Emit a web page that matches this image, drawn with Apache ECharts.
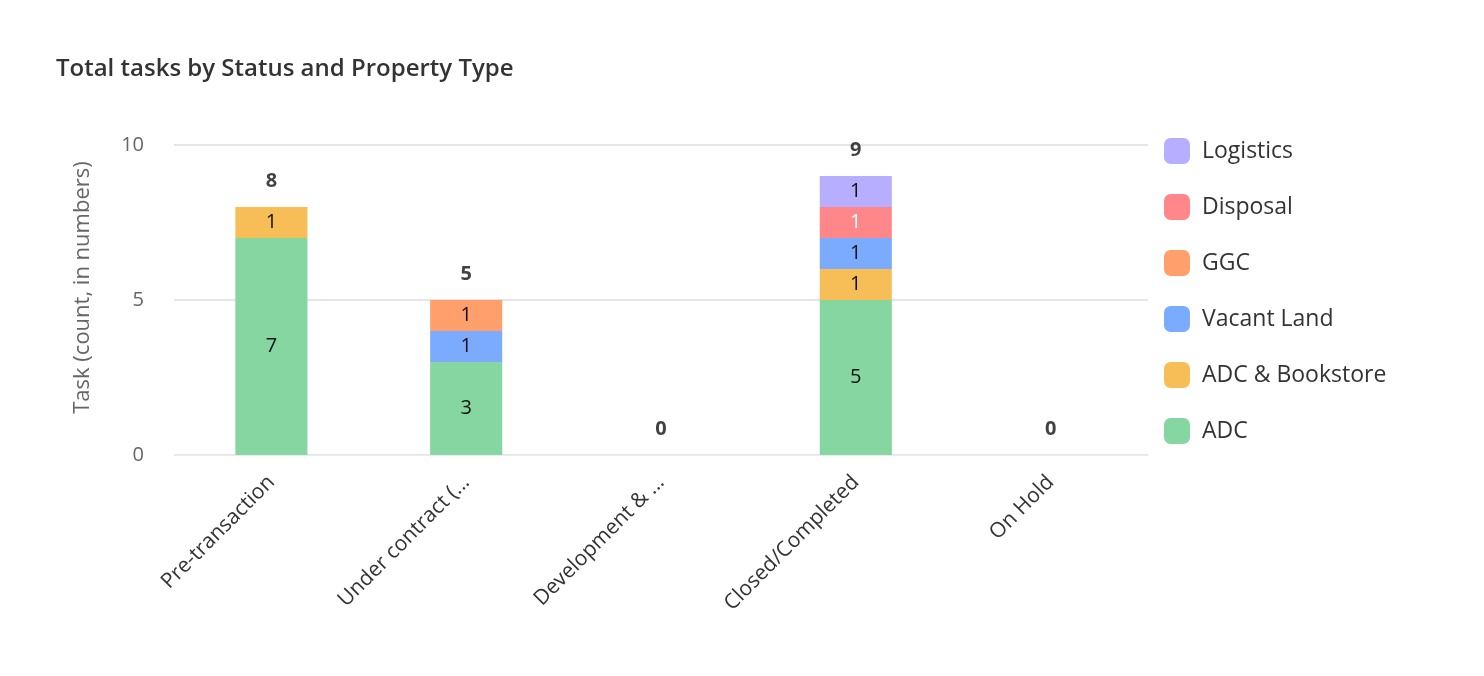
<!DOCTYPE html>
<html><head><meta charset="utf-8">
<script src="https://cdn.jsdelivr.net/npm/echarts@6/dist/echarts.min.js"></script>
<style>html,body{margin:0;padding:0;background:#fff}#c{width:1484px;height:676px}</style>
</head><body><div id="c"></div>
<script>
const categories = ["Pre-transaction", "Under contract (...", "Development & ...", "Closed/Completed", "On Hold"];
const adc = [7, 3, 0, 5, 0];
const adcBookstore = [1, 0, 0, 1, 0];
const vacantLand = [0, 1, 0, 1, 0];
const ggc = [0, 1, 0, 0, 0];
const disposal = [0, 0, 0, 1, 0];
const logistics = [0, 0, 0, 1, 0];
const seriesNames = ["ADC", "ADC & Bookstore", "Vacant Land", "GGC", "Disposal", "Logistics"];
const seriesColors = ["#85D6A0", "#F7BE57", "#7AABFF", "#FFA06C", "#FF878A", "#B8AEFF"];
const yTicks = [0, 5, 10];

const seriesData = [adc, adcBookstore, vacantLand, ggc, disposal, logistics];
const totals = categories.map((_, i) => seriesData.reduce((s, arr) => s + arr[i], 0));
const FONT = '"Open Sans", "Noto Sans", sans-serif';

const chart = echarts.init(document.getElementById('c'));
const barSeries = seriesData.map((d, k) => ({
  name: seriesNames[k], type: 'bar', stack: 'total', data: d, barWidth: '37%',
  itemStyle: { color: seriesColors[k] },
  label: { show: true, position: 'inside', fontFamily: FONT, fontSize: 20,
    color: seriesNames[k] === 'Disposal' ? '#ffffff' : '#111111',
    formatter: p => p.value === 0 ? '' : String(p.value) }
}));
barSeries.push({
  name: 'Total', type: 'scatter', data: totals, symbolSize: 1,
  itemStyle: { color: 'rgba(0,0,0,0)' }, silent: true,
  label: { show: true, position: 'top', distance: 15, fontFamily: FONT, fontSize: 20,
    fontWeight: 'bold', color: '#111111', formatter: p => String(p.value) }
});
chart.setOption({
  animation: false,
  title: { text: 'Total tasks by Status and Property Type', left: 51, top: 52,
    textStyle: { fontFamily: FONT, fontSize: 24, fontWeight: 600, color: '#333333' } },
  legend: {
    orient: 'vertical', left: 1159, top: 133, itemWidth: 26, itemHeight: 26, itemGap: 30,
    data: seriesNames.slice().reverse(),
    icon: 'roundRect',
    textStyle: { fontFamily: FONT, fontSize: 23, color: '#333333', padding: [0, 0, 0, 7] }
  },
  grid: { left: 174, right: 336, top: 145, bottom: 221, containLabel: false },
  xAxis: {
    type: 'category', data: categories,
    axisLine: { show: true, lineStyle: { color: '#ececec' } },
    axisTick: { show: false },
    axisLabel: { rotate: 45, fontFamily: FONT, fontSize: 21, color: '#333333', margin: 24, interval: 0 }
  },
  yAxis: {
    type: 'value', min: 0, max: 10, interval: 5,
    name: 'Task (count, in numbers)', nameLocation: 'middle', nameGap: 80,
    nameTextStyle: { fontFamily: FONT, fontSize: 22, color: '#666666', padding: [0, 0, 0, 25] },
    axisLabel: { fontFamily: FONT, fontSize: 20, color: '#666666', margin: 30,
      formatter: v => yTicks.includes(v) ? String(v) : '' },
    splitLine: { lineStyle: { color: '#dddddd', width: 1.5 } },
    axisLine: { show: false }, axisTick: { show: false }
  },
  series: barSeries
});
</script></body></html>
